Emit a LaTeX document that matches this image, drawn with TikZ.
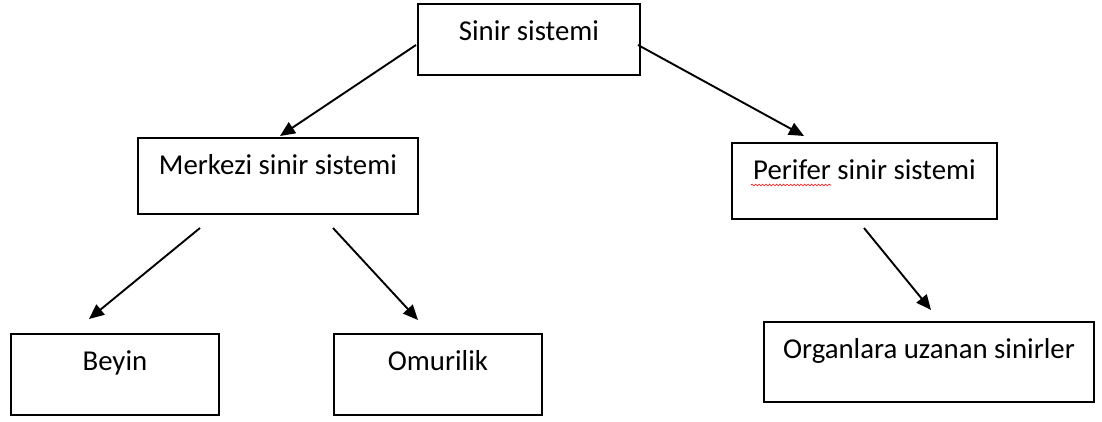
\documentclass[tikz,border=0pt]{standalone}
\usepackage{fontspec}
\setmainfont{Carlito}
\usetikzlibrary{arrows.meta,decorations.pathmorphing}
\begin{document}
\begin{tikzpicture}[x=1pt,y=-1pt,
  every node/.style={font=\fontsize{28.8pt}{34pt}\selectfont},
  box/.style={draw,line width=1.9pt,inner sep=0pt,anchor=north west,text height=37pt},
  arr/.style={line width=1.9pt,-{Triangle[length=15pt,width=13pt]}},
  squig/.style={red,line width=0.6pt,decorate,decoration={snake,segment length=3.5pt,amplitude=0.9pt}}]
\useasboundingbox (0,0) rectangle (1102,421);
% boxes
\node[box,minimum width=222pt,text depth=34pt] (s) at (417,3) {Sinir sistemi};
\node[box,minimum width=280pt,text depth=39pt] (m) at (137,137) {Merkezi sinir sistemi};
\node[box,minimum width=265pt,text depth=39pt] (p) at (731,142) {Perifer sinir sistemi};
\node[box,minimum width=208pt,text depth=44pt] (b) at (10,333) {Beyin};
\node[box,minimum width=208pt,text depth=44pt] (o) at (333,333) {Omurilik};
\node[box,minimum width=330pt,text depth=43pt] (g) at (763,321) {Organlara uzanan sinirler};
% arrow end points
\coordinate (a1s) at (416,45);  \coordinate (a1e) at (280,136);
\coordinate (a2s) at (638,45);  \coordinate (a2e) at (804,136);
\coordinate (a3s) at (200,228); \coordinate (a3e) at (89,319);
\coordinate (a4s) at (333,228); \coordinate (a4e) at (418,320);
\coordinate (a5s) at (864,228); \coordinate (a5e) at (931,310);
\draw[arr] (a1s) -- (a1e);
\draw[arr] (a2s) -- (a2e);
\draw[arr] (a3s) -- (a3e);
\draw[arr] (a4s) -- (a4e);
\draw[arr] (a5s) -- (a5e);
% spell-check squiggle under "Perifer"
\coordinate (q1) at (751,185); \coordinate (q2) at (831,185);
\draw[squig] (q1) -- (q2);
\end{tikzpicture}
\end{document}
